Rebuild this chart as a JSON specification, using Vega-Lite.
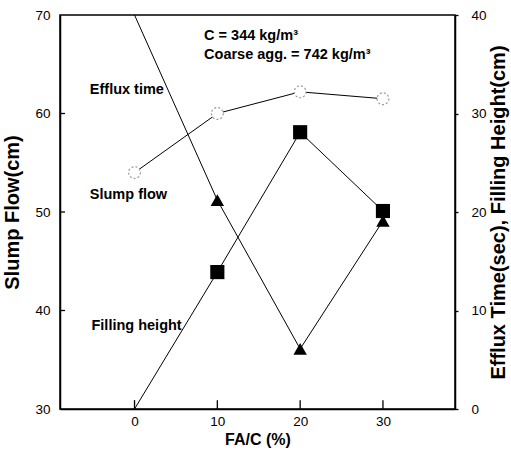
{
  "$schema": "https://vega.github.io/schema/vega-lite/v6.json",
  "width": 395,
  "height": 394,
  "autosize": "none",
  "padding": {"left": 60, "top": 15, "right": 56, "bottom": 46},
  "background": "white",
  "config": {
    "font": "Liberation Sans",
    "view": {"stroke": "black", "strokeWidth": 1.5},
    "axis": {"grid": false, "domainColor": "black", "tickColor": "black", "labelColor": "black", "titleColor": "black", "labelFont": "Liberation Sans", "titleFont": "Liberation Sans", "labelFontSize": 13.5, "titleFontSize": 16, "titleFontWeight": "bold", "domainWidth": 1.5, "tickWidth": 1.3, "zindex": 1}
  },
  "datasets": {
    "slump": [
      {"fa": 0, "flow": 54.0},
      {"fa": 10, "flow": 60.0},
      {"fa": 20, "flow": 62.2},
      {"fa": 30, "flow": 61.5}
    ],
    "right": [
      {"fa": 0, "value": 40.0, "series": "Efflux time"},
      {"fa": 10, "value": 21.2, "series": "Efflux time"},
      {"fa": 20, "value": 6.1, "series": "Efflux time"},
      {"fa": 30, "value": 19.1, "series": "Efflux time"},
      {"fa": 0, "value": 0.0, "series": "Filling height"},
      {"fa": 10, "value": 13.9, "series": "Filling height"},
      {"fa": 20, "value": 28.1, "series": "Filling height"},
      {"fa": 30, "value": 20.1, "series": "Filling height"}
    ],
    "labels": [
      {"fa": 8.4, "flow": 67.9, "text": "C = 344 kg/m³"},
      {"fa": 8.4, "flow": 65.95, "text": "Coarse agg. = 742 kg/m³"},
      {"fa": -5.4, "flow": 62.4, "text": "Efflux time"},
      {"fa": -5.4, "flow": 51.7, "text": "Slump flow"},
      {"fa": -5.2, "flow": 38.4, "text": "Filling height"}
    ],
    "xticks": [{"fa": 0}, {"fa": 10}, {"fa": 20}, {"fa": 30}],
    "yticks": [{"flow": 40}, {"flow": 50}, {"flow": 60}]
  },
  "layer": [
    {
      "layer": [
        {
          "data": {"name": "slump"},
          "mark": {"type": "line", "color": "black", "strokeWidth": 1},
          "encoding": {
            "x": {"field": "fa", "type": "quantitative", "scale": {"domain": [-9, 38.7], "nice": false}, "axis": {"title": "FA/C (%)", "orient": "bottom", "values": [0, 10, 20, 30], "ticks": false, "tickSize": 0, "labelPadding": 5, "titlePadding": 4}},
            "y": {"field": "flow", "type": "quantitative", "scale": {"domain": [30, 70], "nice": false, "zero": false}, "axis": {"title": "Slump Flow(cm)", "orient": "left", "values": [30, 40, 50, 60, 70], "ticks": false, "tickSize": 0, "labelPadding": 10, "titlePadding": 12, "titleFontSize": 20}}
          }
        },
        {
          "data": {"name": "xticks"},
          "mark": {"type": "rule", "color": "black", "strokeWidth": 1.3},
          "encoding": {
            "x": {"field": "fa", "type": "quantitative"},
            "y": {"datum": 30},
            "y2": {"datum": 30.9}
          }
        },
        {
          "data": {"name": "yticks"},
          "mark": {"type": "rule", "color": "black", "strokeWidth": 1.3},
          "encoding": {
            "y": {"field": "flow", "type": "quantitative"},
            "x": {"datum": -9},
            "x2": {"datum": -8.4}
          }
        },
        {
          "data": {"name": "slump"},
          "mark": {"type": "point", "shape": "circle", "filled": false, "size": 140, "stroke": "#999999", "strokeWidth": 1.2, "strokeDash": [2, 2], "fill": "white", "fillOpacity": 1},
          "encoding": {
            "x": {"field": "fa", "type": "quantitative"},
            "y": {"field": "flow", "type": "quantitative"}
          }
        },
        {
          "data": {"name": "labels"},
          "mark": {"type": "text", "align": "left", "baseline": "middle", "fontWeight": "bold", "fontSize": 14.5, "color": "black"},
          "encoding": {
            "x": {"field": "fa", "type": "quantitative"},
            "y": {"field": "flow", "type": "quantitative"},
            "text": {"field": "text"}
          }
        }
      ]
    },
    {
      "data": {"name": "right"},
      "layer": [
        {
          "mark": {"type": "line", "color": "black", "strokeWidth": 1, "clip": true},
          "encoding": {
            "x": {"field": "fa", "type": "quantitative"},
            "y": {"field": "value", "type": "quantitative", "scale": {"domain": [0, 40], "nice": false}, "axis": {"title": "Efflux Time(sec), Filling Height(cm)", "orient": "right", "values": [0, 10, 20, 30, 40], "tickSize": 3, "labelPadding": 13, "titleAngle": -90, "titlePadding": 22, "titleFontSize": 20}},
            "detail": {"field": "series"}
          }
        },
        {
          "transform": [{"filter": "datum.fa > 0"}],
          "mark": {"type": "point", "filled": true, "color": "black", "opacity": 1},
          "encoding": {
            "x": {"field": "fa", "type": "quantitative"},
            "y": {"field": "value", "type": "quantitative"},
            "shape": {"field": "series", "type": "nominal", "scale": {"domain": ["Efflux time", "Filling height"], "range": ["triangle-up", "square"]}, "legend": null},
            "size": {"field": "series", "type": "nominal", "scale": {"domain": ["Efflux time", "Filling height"], "range": [180, 200]}, "legend": null}
          }
        }
      ]
    }
  ],
  "resolve": {"scale": {"y": "independent"}}
}
